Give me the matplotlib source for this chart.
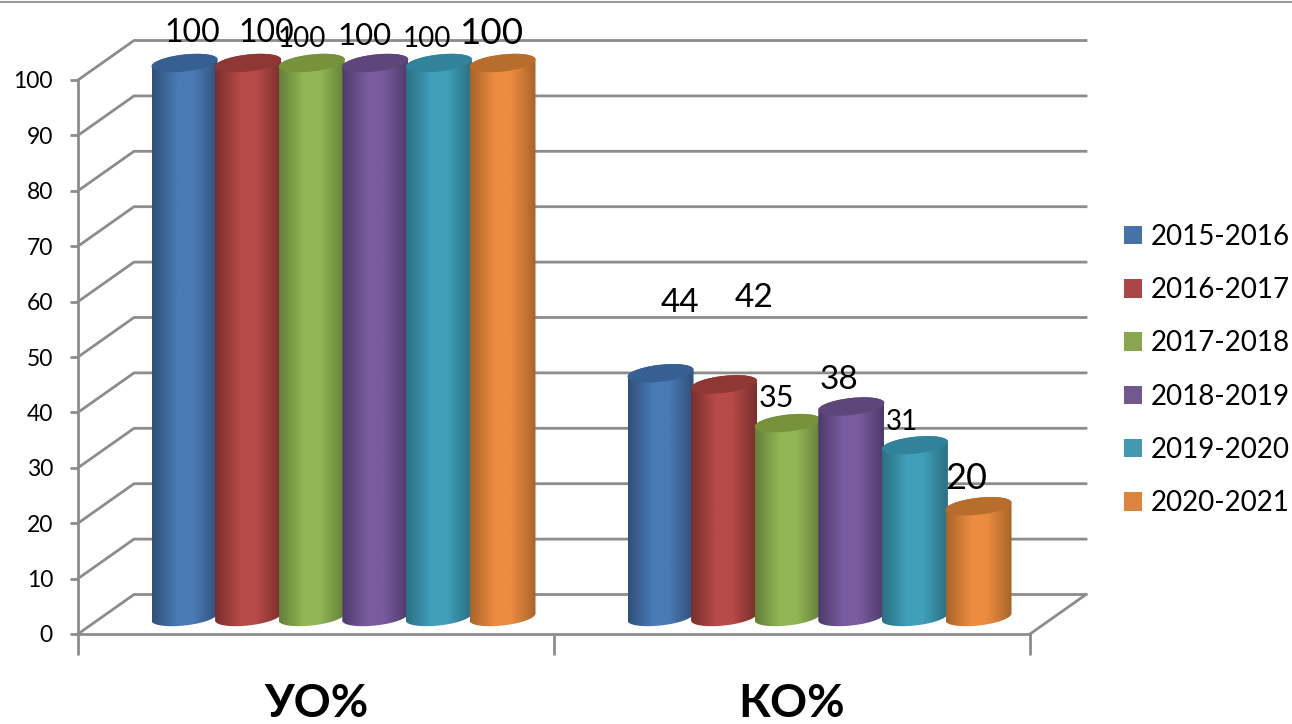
import numpy as np
import matplotlib
matplotlib.use('Agg')
import matplotlib.pyplot as plt
from matplotlib.colors import LinearSegmentedColormap
from matplotlib.lines import Line2D
from matplotlib.patches import Patch, PathPatch
from matplotlib.path import Path

# chart data
categories = ['УО%', 'КО%']
seasons = ['2015-2016', '2016-2017', '2017-2018', '2018-2019', '2019-2020', '2020-2021']
uo_values = [100, 100, 100, 100, 100, 100]
ko_values = [44, 42, 35, 38, 31, 20]
y_ticks = list(range(0, 101, 10))

# per label style, the source chart has them hand placed
label_sizes = [[23, 23, 20, 22.5, 20, 26.5], [24, 24, 22, 24, 20, 26]]
label_offsets = [
    [(7.5, 30), (18, 30), (-10, 24), (-11, 27), (-12, 24), (-10.5, 29)],
    [(19.5, 70), (30, 86), (-11, 25), (-12, 26), (-13, 23), (-12.5, 28)],
]

legend_colors = ['#4573a7', '#aa4644', '#89a54e', '#71588f', '#4298af', '#db843d']
edge_colors = ['#2f5078', '#7a2f2d', '#64803a', '#4f3a6b', '#2b6f83', '#a8642a']
body_colors = ['#4a7bb6', '#b64b49', '#93b655', '#795c9e', '#40a0ba', '#ec8c40']
top_colors = ['#365f92', '#8f3734', '#76933c', '#5d4679', '#31839b', '#b86d2c']

grid_color = '#8c8c8c'
plt.rcParams['font.family'] = ['Lato', 'DejaVu Sans']

W, H = 1292, 724
fig = plt.figure(figsize=(W / 100, H / 100), dpi=100)
ax = fig.add_axes([78 / W, 1 - 634 / H, 952 / W, 554 / H])
ax.set_xlim(0, 2)
ax.set_ylim(0, 100)
ax.patch.set_alpha(0)

# pixel sizes turned into data units
px_x = 2 / 952
px_y = 100 / 554
depth_x = 56 * px_x
depth_y = 39.5 * px_y
bar_shift = 27.5 * px_x
bar_step = 63.6 * px_x
radius = 33 * px_x
ell_h = 8.5 * px_y
ell_tilt = 3.5 * px_y
base_y = 17 * px_y

# back wall and side wall lines
for v in y_ticks:
    ax.plot([0, depth_x, 2 + depth_x], [v, v + depth_y, v + depth_y],
            color=grid_color, lw=2, clip_on=False, zorder=1, solid_joinstyle='miter')
ax.plot([2, 2 + depth_x], [0, depth_y], color=grid_color, lw=2, clip_on=False, zorder=1)


def cylinder(cx, value, i, z):
    t_low = np.linspace(np.pi, 2 * np.pi, 60)
    t_up = np.linspace(0, np.pi, 60)
    top = base_y + value

    # body outline: lower arc of the base, upper arc of the top
    xs = np.r_[cx + radius * np.cos(t_low), cx + radius * np.cos(t_up)]
    ys = np.r_[base_y + ell_h * np.sin(t_low) + ell_tilt * np.cos(t_low),
               top + ell_h * np.sin(t_up) + ell_tilt * np.cos(t_up)]
    verts = np.column_stack([xs, ys])
    clip = PathPatch(Path(np.vstack([verts, verts[:1]]), closed=True),
                     transform=ax.transData, fc='none', ec='none')
    ax.add_patch(clip)
    clip.set_clip_on(False)

    cmap = LinearSegmentedColormap.from_list('c', [
        (0, edge_colors[i]), (0.38, body_colors[i]), (0.62, body_colors[i]), (1, edge_colors[i])])
    im = ax.imshow(np.linspace(0, 1, 128).reshape(1, -1), cmap=cmap, aspect='auto',
                   extent=(cx - radius, cx + radius, base_y - 2 * ell_h, top + 2 * ell_h),
                   zorder=z, interpolation='bilinear')
    im.set_clip_box(fig.bbox)
    im.set_clip_path(clip)

    t = np.linspace(0, 2 * np.pi, 120)
    ax.fill(cx + radius * np.cos(t), top + ell_h * np.sin(t) + ell_tilt * np.cos(t),
            color=top_colors[i], lw=0, clip_on=False, zorder=z + 0.1)


series = [uo_values, ko_values]
for g, values in enumerate(series):
    for i, v in enumerate(values):
        cx = g + 0.5 + bar_shift + (i - 2.5) * bar_step
        cylinder(cx, v, i, 3 + i)
        ax.annotate(str(v), (cx, base_y + v), xytext=label_offsets[g][i],
                    textcoords='offset pixels', ha='center', va='center',
                    fontsize=label_sizes[g][i], color='black', zorder=20,
                    annotation_clip=False)

ax.set_xlim(0, 2)
ax.set_ylim(0, 100)

# axes
for s in ['top', 'right']:
    ax.spines[s].set_visible(False)
for s in ['left', 'bottom']:
    ax.spines[s].set_color(grid_color)
    ax.spines[s].set_linewidth(2)
    ax.spines[s].set_zorder(2)
ax.set_yticks(y_ticks)
ax.tick_params(axis='y', length=6, width=2, color=grid_color, labelsize=16.5, pad=12)
ax.set_xticks([0, 1, 2])
ax.set_xticklabels([])
ax.tick_params(axis='x', which='major', length=15, width=2, color=grid_color)
ax.set_xticks([0.5, 1.5], minor=True)
ax.set_xticklabels(categories, minor=True, fontsize=33, fontweight='bold')
ax.tick_params(axis='x', which='minor', length=0, pad=35)

handles = [Patch(facecolor=c, edgecolor='none') for c in legend_colors]
fig.legend(handles, seasons, loc='center left', bbox_to_anchor=(1124 / W, 1 - 370 / H),
           frameon=False, fontsize=20, handlelength=0.65, handleheight=0.65,
           handletextpad=0.3, labelspacing=0.98, borderpad=0, borderaxespad=0)

# rule along the top of the page
fig.add_artist(Line2D([0, 1], [1 - 2 / H, 1 - 2 / H], color='#999999', lw=1.5))

fig.savefig('out.png', dpi=100)
